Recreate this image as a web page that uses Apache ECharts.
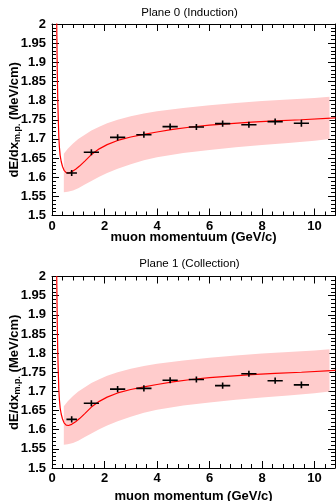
<!DOCTYPE html>
<html><head><meta charset="utf-8">
<script src="https://cdn.jsdelivr.net/npm/echarts@6/dist/echarts.min.js"></script>
<style>html,body{margin:0;padding:0;background:#fff}#c{width:336px;height:501px}</style>
</head><body><div id="c"></div>
<script>
// ---- data ----
const titles = ['Plane 0 (Induction)', 'Plane 1 (Collection)'];
const xNames = ['muon momentuum (GeV/c)', 'muon momentum (GeV/c)'];
const binX = [0.75, 1.5, 2.5, 3.5, 4.5, 5.5, 6.5, 7.5, 8.5, 9.5];
const binXErr = [0.2, 0.29, 0.29, 0.29, 0.29, 0.29, 0.29, 0.29, 0.29, 0.29];
const plane0Y = [1.611, 1.665, 1.704, 1.711, 1.732, 1.731, 1.740, 1.737, 1.745, 1.741];
const plane0YErr = [0.008, 0.008, 0.008, 0.008, 0.008, 0.008, 0.008, 0.008, 0.008, 0.009];
const plane1Y = [1.627, 1.669, 1.706, 1.708, 1.729, 1.731, 1.715, 1.746, 1.728, 1.717];
const plane1YErr = [0.008, 0.008, 0.008, 0.008, 0.008, 0.008, 0.008, 0.008, 0.008, 0.009];
const curveX = [0.17,0.18,0.20,0.22,0.24,0.26,0.28,0.31,0.35,0.40,0.46,0.54,0.63,0.75,0.9,1.05,1.25,1.5,1.8,2.1,2.5,3.0,3.5,4.0,4.6,5.3,6.0,6.8,7.6,8.5,9.5,10.8];
const curveY = [2.06,2.0,1.88,1.80,1.75,1.705,1.68,1.657,1.641,1.628,1.618,1.612,1.611,1.614,1.621,1.629,1.642,1.659,1.674,1.685,1.696,1.705,1.712,1.718,1.725,1.731,1.736,1.740,1.744,1.747,1.750,1.755];
const bandX = [0.45,0.6,0.8,1.0,1.25,1.5,1.8,2.1,2.5,3.0,3.5,4.0,5.0,6.0,7.0,8.0,9.0,10.0,10.57];
const bandUpper = [1.661,1.674,1.688,1.700,1.711,1.722,1.732,1.741,1.750,1.759,1.766,1.772,1.781,1.788,1.794,1.799,1.803,1.807,1.810];
const bandLower = [1.561,1.562,1.565,1.571,1.581,1.590,1.601,1.611,1.622,1.634,1.644,1.652,1.663,1.671,1.678,1.684,1.689,1.695,1.700];
const xRange = [0, 10.78];
const yRange = [1.5, 2.0];

// ---- layout ----
const FONT = "'Liberation Sans', Arial, Helvetica, sans-serif";
const grids = [
  {left: 52, width: 283, top: 24, height: 191.5, containLabel: false, outerBoundsMode: 'none'},
  {left: 52, width: 283, top: 276.5, height: 191.5, containLabel: false, outerBoundsMode: 'none'}
];
const xNameGap = [15, 21.5];
const titleTop = [6, 257];

const tickCommon = {
  axisTick: {show: true, inside: true, length: 7, lineStyle: {color: '#000', width: 1}},
  minorTick: {show: true, splitNumber: 5, length: 4, lineStyle: {color: '#000', width: 1}},
  splitLine: {show: false},
  axisLine: {show: true, onZero: false, lineStyle: {color: '#000', width: 1}}
};
const labelStyle = {color: '#000', fontWeight: 'bold', fontSize: 13, fontFamily: FONT, hideOverlap: false, interval: 0};

const xAxes = [], yAxes = [], series = [], titleArr = [];
const yData = [plane0Y, plane1Y];
const yErr = [plane0YErr, plane1YErr];

for (let g = 0; g < 2; g++) {
  titleArr.push({
    text: titles[g], left: 189.5, top: titleTop[g], textAlign: 'center', padding: 0,
    textStyle: {fontSize: 11.5, fontWeight: 'normal', color: '#000', fontFamily: FONT, lineHeight: 14}
  });
  xAxes.push(Object.assign({
    gridIndex: g, type: 'value', min: xRange[0], max: xRange[1], interval: 2, position: 'bottom',
    axisLabel: Object.assign({margin: 4, showMaxLabel: false}, labelStyle),
    name: xNames[g], nameLocation: 'middle', nameGap: xNameGap[g], nameMoveOverlap: false,
    nameTextStyle: {color: '#000', fontWeight: 'bold', fontSize: 13, fontFamily: FONT}
  }, tickCommon));
  xAxes.push(Object.assign({
    gridIndex: g, type: 'value', min: xRange[0], max: xRange[1], interval: 2, position: 'top',
    axisLabel: {show: false}
  }, tickCommon));
  yAxes.push(Object.assign({
    gridIndex: g, type: 'value', min: yRange[0], max: yRange[1], interval: 0.05, position: 'left',
    axisLabel: Object.assign({margin: 6, formatter: v => String(+v.toFixed(2))}, labelStyle),
    name: '{a|dE/dx}{s|m.p.}{a| (MeV/cm)}', nameLocation: 'middle', nameRotate: 90, nameGap: 30,
    nameMoveOverlap: false,
    nameTextStyle: {rich: {
      a: {fontSize: 13, fontWeight: 'bold', fontFamily: FONT, color: '#000', lineHeight: 16},
      s: {fontSize: 9, fontWeight: 'bold', fontFamily: FONT, color: '#000', lineHeight: 9, verticalAlign: 'bottom'}
    }}
  }, tickCommon));
  yAxes.push(Object.assign({
    gridIndex: g, type: 'value', min: yRange[0], max: yRange[1], interval: 0.05, position: 'right',
    axisLabel: {show: false}
  }, tickCommon));

  const xi = g * 2, yi = g * 2;
  series.push({
    type: 'custom', xAxisIndex: xi, yAxisIndex: yi, clip: true, silent: true,
    data: bandX.map((x, i) => [x, bandUpper[i], bandLower[i]]),
    encode: {x: 0, y: [1, 2]},
    renderItem: (params, api) => {
      if (params.dataIndex !== 0) return null;
      const pts = [];
      for (let i = 0; i < bandX.length; i++) pts.push(api.coord([bandX[i], bandUpper[i]]));
      for (let i = bandX.length - 1; i >= 0; i--) pts.push(api.coord([bandX[i], bandLower[i]]));
      return {type: 'polygon', shape: {points: pts}, style: {fill: '#ffcccc', stroke: null}};
    },
    z: 1
  });
  series.push({
    type: 'line', xAxisIndex: xi, yAxisIndex: yi, clip: true, showSymbol: false, smooth: false,
    data: curveX.map((x, i) => [x, curveY[i]]),
    lineStyle: {color: '#ff0000', width: 1.2}, z: 2, silent: true
  });
  series.push({
    type: 'custom', xAxisIndex: xi, yAxisIndex: yi, clip: true, silent: true,
    data: binX.map((x, i) => [x, yData[g][i], binXErr[i], yErr[g][i]]),
    encode: {x: 0, y: 1},
    renderItem: (params, api) => {
      const x = api.value(0), y = api.value(1), ex = api.value(2), ey = api.value(3);
      const l = api.coord([x - ex, y]), r = api.coord([x + ex, y]);
      const t = api.coord([x, y + ey]), b = api.coord([x, y - ey]);
      const st = {stroke: '#000', lineWidth: 1.6};
      return {type: 'group', children: [
        {type: 'line', shape: {x1: l[0], y1: l[1], x2: r[0], y2: r[1]}, style: st},
        {type: 'line', shape: {x1: t[0], y1: t[1], x2: b[0], y2: b[1]}, style: st}
      ]};
    },
    z: 3
  });
}

const chart = echarts.init(document.getElementById('c'), null, {renderer: 'canvas'});
chart.setOption({
  animation: false,
  backgroundColor: '#fff',
  title: titleArr,
  grid: grids,
  xAxis: xAxes,
  yAxis: yAxes,
  series: series
});
</script></body></html>
